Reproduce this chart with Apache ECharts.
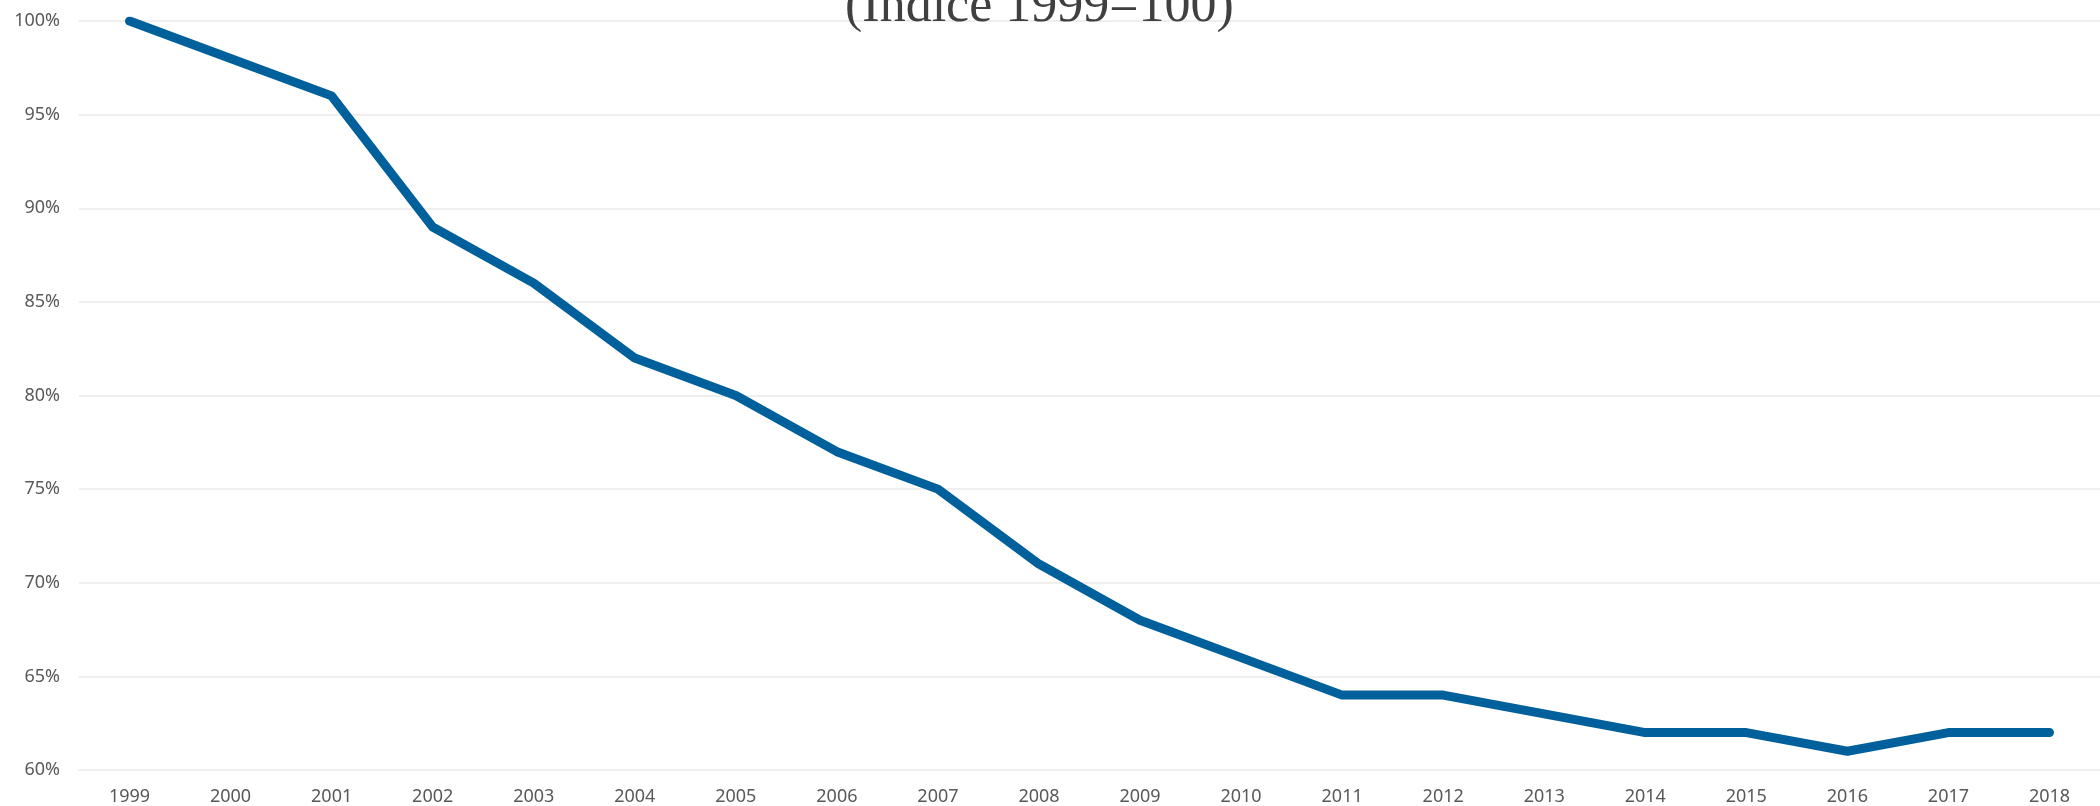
<!DOCTYPE html>
<html>
<head>
    <meta charset="utf-8">
    <title>Índice 1999=100</title>
    <script src="https://cdn.jsdelivr.net/npm/echarts@6/dist/echarts.min.js"></script>
    <style>
      html, body { margin: 0; padding: 0; background: #fff; }
    </style>
</head>
<body>
  <div id="main" style="width: 2100px;height:806px;"></div>

<script type="text/javascript">

var years = ['1999', '2000', '2001', '2002', '2003', '2004', '2005', '2006', '2007', '2008',
             '2009', '2010', '2011', '2012', '2013', '2014', '2015', '2016', '2017', '2018'];
var indice = [100, 98, 96, 89, 86, 82, 80, 77, 75, 71,
              68, 66, 64, 64, 63, 62, 62, 61, 62, 62];
var titulo = '(Índice 1999=100)';

var myChart = echarts.init(document.getElementById('main'));

myChart.setOption({
    animation: false,
    title: {
        text: titulo,
        left: 845,
        top: -19,
        padding: 0,
        textStyle: {
            fontFamily: 'Liberation Serif',
            fontSize: 52,
            fontWeight: 'normal',
            color: '#404040'
        }
    },
    grid: {
        left: 79,
        right: 0,
        top: 21,
        bottom: 36
    },
    xAxis: {
        type: 'category',
        data: years,
        boundaryGap: true,
        axisLine: { lineStyle: { color: '#efefef', width: 2 } },
        axisTick: { show: false },
        axisLabel: {
            margin: 18,
            fontFamily: 'Noto Sans',
            fontSize: 18,
            color: '#595959'
        }
    },
    yAxis: {
        type: 'value',
        min: 60,
        max: 100,
        interval: 5,
        axisLine: { show: false },
        axisTick: { show: false },
        splitLine: { lineStyle: { color: '#efefef', width: 2 } },
        axisLabel: {
            margin: 19,
            fontFamily: 'Noto Sans',
            fontSize: 18,
            color: '#595959',
            formatter: '{value}%'
        }
    },
    series: [{
        type: 'line',
        data: indice,
        showSymbol: false,
        lineStyle: {
            color: '#00609c',
            width: 9,
            cap: 'round',
            join: 'round'
        }
    }]
});
</script>

</body>
</html>
